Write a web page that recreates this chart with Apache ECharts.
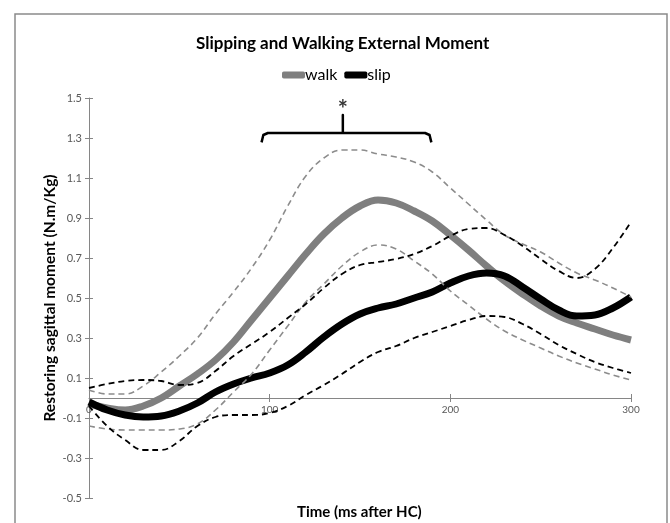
<!DOCTYPE html>
<html>
<head>
<meta charset="utf-8">
<script src="https://cdn.jsdelivr.net/npm/echarts@6/dist/echarts.min.js"></script>
<style>
  body { margin: 0; background: #fff; }
  #chart { width: 670px; height: 523px; }
</style>
</head>
<body>
<div id="chart"></div>
<script>
// time after heel contact (ms)
const time = [0, 10, 20, 30, 40, 50, 60, 70, 80, 90, 100, 110, 120, 130, 140, 150,
  160, 170, 180, 190, 200, 210, 220, 230, 240, 250, 260, 270, 280, 290, 300]

const walkMean = [-0.03, -0.05, -0.06, -0.04, 0.0, 0.06, 0.12, 0.19, 0.28, 0.39, 0.5, 0.61,
  0.72, 0.82, 0.9, 0.96, 0.99, 0.975, 0.935, 0.885, 0.815, 0.74, 0.66, 0.585, 0.52, 0.46,
  0.41, 0.375, 0.345, 0.315, 0.29]
const walkUpper = [0.04, 0.02, 0.02, 0.06, 0.13, 0.21, 0.3, 0.42, 0.53, 0.65, 0.79, 0.96,
  1.11, 1.2, 1.24, 1.24, 1.22, 1.205, 1.18, 1.13, 1.05, 0.97, 0.89, 0.815, 0.77, 0.73,
  0.675, 0.625, 0.59, 0.55, 0.505]
const walkLower = [-0.14, -0.155, -0.16, -0.16, -0.16, -0.155, -0.13, -0.06, 0.03, 0.12,
  0.24, 0.36, 0.48, 0.57, 0.66, 0.73, 0.765, 0.745, 0.685, 0.62, 0.535, 0.465, 0.395,
  0.335, 0.29, 0.25, 0.21, 0.175, 0.145, 0.115, 0.09]

const slipMean = [-0.02, -0.06, -0.085, -0.095, -0.09, -0.065, -0.025, 0.03, 0.07, 0.1,
  0.125, 0.165, 0.23, 0.305, 0.37, 0.42, 0.45, 0.47, 0.5, 0.53, 0.575, 0.61, 0.625, 0.61,
  0.555, 0.495, 0.44, 0.41, 0.415, 0.45, 0.505]
const slipUpper = [0.05, 0.07, 0.085, 0.09, 0.085, 0.065, 0.075, 0.135, 0.21, 0.27, 0.33,
  0.4, 0.47, 0.55, 0.62, 0.665, 0.68, 0.695, 0.72, 0.76, 0.81, 0.845, 0.85, 0.815, 0.76,
  0.695, 0.635, 0.6, 0.645, 0.75, 0.88]
const slipLower = [-0.04, -0.14, -0.21, -0.26, -0.26, -0.215, -0.14, -0.095, -0.085, -0.085,
  -0.075, -0.04, 0.015, 0.065, 0.12, 0.18, 0.23, 0.26, 0.3, 0.33, 0.36, 0.39, 0.41, 0.405,
  0.37, 0.32, 0.265, 0.22, 0.18, 0.15, 0.125]

// significance bracket
const bracketX = [95.5, 96.5, 99, 140.5, 140.5, 140.5, 186, 188.5, 189.5]
const bracketY = [1.278, 1.315, 1.325, 1.325, 1.415, 1.325, 1.325, 1.315, 1.278]
const starPos = [140.5, 1.415]

const pairs = ys => time.map((t, i) => [t, ys[i]])

const chart = echarts.init(document.getElementById('chart'))

const dashed = (name, data, color, width) => ({
  name: name,
  type: 'line',
  data: pairs(data),
  smooth: 0.4,
  symbol: 'none',
  silent: true,
  lineStyle: { color: color, width: width, type: [6, 4] }
})

chart.setOption({
  backgroundColor: '#fff',
  animation: false,
  textStyle: { fontFamily: 'Lato' },
  title: {
    text: 'Slipping and Walking External Moment',
    left: 191,
    top: 30,
    textStyle: { fontSize: 17, fontWeight: 'bold', color: '#000', fontFamily: 'Lato' }
  },
  legend: {
    top: 62,
    left: 277,
    data: ['walk', 'slip'],
    itemWidth: 23,
    itemHeight: 7,
    itemGap: 7,
    icon: 'roundRect',
    textStyle: { fontSize: 16, color: '#000', padding: [0, 0, 0, -5] }
  },
  grid: { left: 89, right: 39, top: 98, bottom: 25 },
  // x axis sits at y = 0, which is 100px above the grid bottom
  xAxis: [{
    type: 'value',
    position: 'bottom',
    min: 0,
    max: 300,
    interval: 100,
    offset: -100,
    splitLine: { show: false },
    axisLine: { onZero: false, lineStyle: { color: '#868686', width: 1 } },
    axisTick: { length: 4, lineStyle: { color: '#868686' } },
    axisLabel: { fontSize: 10, color: '#595959', margin: 7 }
  }, {
    type: 'value',
    position: 'bottom',
    min: 0,
    max: 300,
    interval: 100,
    offset: -100,
    splitLine: { show: false },
    axisLine: { show: false, onZero: false },
    axisTick: { show: true, inside: true, length: 4, lineStyle: { color: '#868686' } },
    axisLabel: { show: false }
  }],
  yAxis: [{
    type: 'value',
    min: -0.5,
    max: 1.5,
    interval: 0.2,
    splitLine: { show: false },
    axisLine: { show: true, lineStyle: { color: '#868686', width: 1 } },
    axisTick: { show: true, length: 4, lineStyle: { color: '#868686' } },
    axisLabel: { fontSize: 11, color: '#595959', margin: 7, formatter: v => v.toFixed(1) },
    name: 'Restoring sagittal moment (N.m/Kg)',
    nameLocation: 'middle',
    nameGap: 31,
    nameMoveOverlap: false,
    nameTextStyle: { fontSize: 15.5, fontWeight: 'bold', color: '#000' }
  }, {
    type: 'value',
    position: 'left',
    min: -0.5,
    max: 1.5,
    interval: 0.2,
    splitLine: { show: false },
    axisLine: { show: false },
    axisTick: { show: true, inside: true, length: 4, lineStyle: { color: '#868686' } },
    axisLabel: { show: false }
  }],
  graphic: [{
    type: 'rect',
    shape: { x: 15, y: 14, width: 652, height: 530 },
    style: { fill: 'none', stroke: '#8a8a8a', lineWidth: 1.5 },
    silent: true
  }, {
    type: 'text',
    left: 297,
    top: 505,
    style: { text: 'Time (ms after HC)', font: 'bold 15px Lato', fill: '#000' }
  }],
  series: [{
    name: 'walk',
    type: 'line',
    data: pairs(walkMean),
    smooth: 0.4,
    symbol: 'none',
    lineStyle: { color: '#7f7f7f', width: 7 },
    itemStyle: { color: '#7f7f7f' }
  }, {
    name: 'slip',
    type: 'line',
    data: pairs(slipMean),
    smooth: 0.4,
    symbol: 'none',
    lineStyle: { color: '#000', width: 7 },
    itemStyle: { color: '#000' }
  },
  dashed('walk +SD', walkUpper, '#8c8c8c', 1.6),
  dashed('walk -SD', walkLower, '#8c8c8c', 1.6),
  dashed('slip +SD', slipUpper, '#000', 1.8),
  dashed('slip -SD', slipLower, '#000', 1.8),
  {
    name: 'bracket',
    type: 'line',
    data: bracketX.map((x, i) => [x, bracketY[i]]),
    symbol: 'none',
    silent: true,
    lineStyle: { color: '#000', width: 2.5, join: 'round' }
  }, {
    name: 'star',
    type: 'scatter',
    data: [starPos],
    symbolSize: 2,
    silent: true,
    itemStyle: { color: 'rgba(0,0,0,0)' },
    label: { show: true, formatter: '*', position: 'top', distance: -8, fontSize: 24, fontWeight: 'bold', color: '#000' }
  }]
})
</script>
</body>
</html>
